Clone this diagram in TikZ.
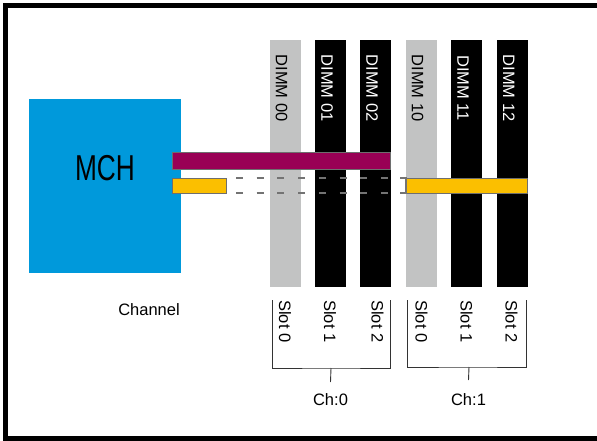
\documentclass[tikz,border=0pt]{standalone}
\usepackage{fontspec}
\setmainfont{Liberation Sans}
\usepackage{graphicx}
\definecolor{mchblue}{HTML}{0099DB}
\definecolor{magbar}{HTML}{990055}
\definecolor{yelbar}{HTML}{FBBF00}
\definecolor{dimmgray}{HTML}{C2C3C3}
\definecolor{edgegray}{HTML}{6E6E6E}
\tikzset{
  box/.style={inner sep=0pt, outer sep=0pt, anchor=north west},
  column/.style={box, minimum width=31pt, minimum height=247pt},
  bar/.style={box, draw=edgegray, line width=0.9pt},
  lab/.style={inner sep=0pt, font=\fontsize{16.5}{18}\selectfont},
  vlab/.style={lab, rotate=-90},
  bracketline/.style={draw=black!80, line width=0.9pt},
  dashline/.style={draw=black!55, line width=1.3pt, dash pattern=on 7pt off 13.7pt}
}
\begin{document}
\begin{tikzpicture}[x=1pt,y=-1pt]
\useasboundingbox (0,0) rectangle (597,440);
\fill[white] (0,0) rectangle (597,440);
% frame
\draw[line width=5pt] (605,5.5) -- (5.5,5.5) -- (5.5,438.5) -- (605,438.5);
% MCH
\node[box, fill=mchblue, minimum width=152pt, minimum height=174pt] (mch) at (29,99) {};
\node[lab] (mchlab) at (105,168) {\fontsize{36}{40}\selectfont\scalebox{0.73}[1]{MCH}};
% DIMM columns
\node[column, fill=dimmgray] (d00) at (270,40) {};
\node[column, fill=black] (d01) at (315,40) {};
\node[column, fill=black] (d02) at (360,40) {};
\node[column, fill=dimmgray] (d10) at (406,40) {};
\node[column, fill=black] (d11) at (451,40) {};
\node[column, fill=black] (d12) at (497,40) {};
\node[vlab, text=black] (t00) at (281.5,88) {DIMM 00};
\node[vlab, text=white] (t01) at (327,88) {DIMM 01};
\node[vlab, text=white] (t02) at (372,88) {DIMM 02};
\node[vlab, text=black] (t10) at (417.5,88) {DIMM 10};
\node[vlab, text=white] (t11) at (463,88) {DIMM 11};
\node[vlab, text=white] (t12) at (509,88) {DIMM 12};
% bars
\node[bar, fill=magbar, minimum width=218pt, minimum height=17pt] (mag) at (172,152) {};
\node[bar, fill=yelbar, minimum width=54pt, minimum height=15pt] (yl) at (172,178) {};
\node[bar, fill=yelbar, minimum width=121pt, minimum height=15pt] (yr) at (406,178) {};
\coordinate (dstartT) at (236,178);
\coordinate (dstartB) at (236,193);
\coordinate (dendT) at (400,178);
\coordinate (dendB) at (400,193);
\draw[dashline] (dstartT) -- (dendT);
\draw[dashline] (dstartB) -- (dendB);
\draw[draw=black!55, line width=1.1pt] (dendT) -- (yr.north west) -- (yr.south west) -- (dendB);
% labels
\node[lab] (chan) at (149,310) {Channel};
\node[vlab, anchor=west] (s00) at (285,300) {Slot 0};
\node[vlab, anchor=west] (s01) at (330,300) {Slot 1};
\node[vlab, anchor=west] (s02) at (377.5,300) {Slot 2};
\node[vlab, anchor=west] (s10) at (421.5,300) {Slot 0};
\node[vlab, anchor=west] (s11) at (466.5,300) {Slot 1};
\node[vlab, anchor=west] (s12) at (511.5,300) {Slot 2};
% brackets
\coordinate (b0a) at (272,300);
\coordinate (b0b) at (390,300);
\coordinate (b0m) at (331,368);
\coordinate (b1a) at (407,300);
\coordinate (b1b) at (526,300);
\coordinate (b1m) at (469,367);
\draw[bracketline] (b0a) |- (b0m) -| (b0b);
\draw[bracketline] (b1a) |- (b1m) -| (b1b);
\node[lab] (ch0) at (330.5,400) {Ch:0};
\node[lab] (ch1) at (468.5,400) {Ch:1};
\draw[bracketline] (b0m) -- (ch0.north |- 0,382);
\draw[bracketline] (b1m) -- (ch1.north |- 0,380);
\end{tikzpicture}
\end{document}
